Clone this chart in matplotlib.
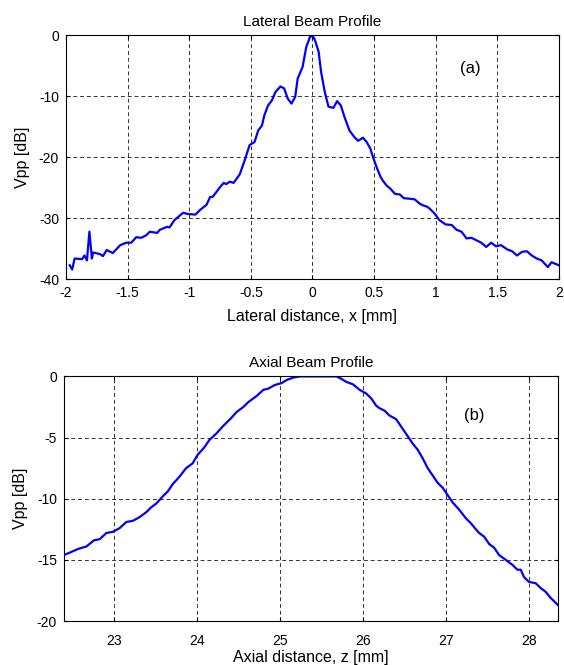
"""Lateral and axial beam profiles (Vpp in dB), MATLAB-style two-panel figure."""

import matplotlib

matplotlib.use("Agg")
import matplotlib.pyplot as plt

# ---- data -------------------------------------------------------------------
lat_x = [-1.97, -1.95, -1.93, -1.87, -1.85, -1.83, -1.81, -1.79, -1.78, -1.72,
         -1.70, -1.67, -1.62, -1.56, -1.51, -1.47, -1.43, -1.39, -1.35, -1.32,
         -1.26, -1.24, -1.18, -1.16, -1.12, -1.05, -1.01, -0.95, -0.91, -0.86,
         -0.83, -0.81, -0.75, -0.72, -0.70, -0.67, -0.64, -0.59, -0.55, -0.51,
         -0.47, -0.44, -0.41, -0.39, -0.36, -0.33, -0.30, -0.26, -0.23, -0.20,
         -0.17, -0.14, -0.12, -0.08, -0.05, -0.02, 0.00, 0.02, 0.05, 0.07,
         0.10, 0.13, 0.17, 0.20, 0.23, 0.26, 0.30, 0.34, 0.37, 0.41,
         0.44, 0.47, 0.49, 0.52, 0.55, 0.57, 0.60, 0.63, 0.67, 0.71,
         0.74, 0.79, 0.83, 0.87, 0.90, 0.93, 0.95, 0.99, 1.03, 1.08,
         1.13, 1.17, 1.21, 1.25, 1.29, 1.33, 1.37, 1.41, 1.45, 1.49,
         1.53, 1.58, 1.62, 1.66, 1.70, 1.74, 1.78, 1.82, 1.86, 1.91,
         1.94, 2.00]
lat_db = [-37.7, -38.4, -36.6, -36.7, -36.1, -36.9, -32.2, -36.6, -35.6, -35.9,
          -36.2, -35.2, -35.7, -34.4, -34.0, -34.0, -33.1, -33.2, -32.8, -32.2,
          -32.4, -31.9, -31.4, -31.5, -30.3, -29.1, -29.3, -29.4, -28.6, -27.8,
          -26.5, -26.5, -24.9, -24.2, -24.4, -24.0, -24.2, -22.8, -20.5, -18.0,
          -17.5, -15.6, -14.8, -13.1, -11.5, -10.7, -9.3, -8.4, -8.7, -10.4,
          -11.2, -10.1, -7.1, -5.2, -1.9, -0.3, 0.0, -0.8, -2.7, -6.0,
          -9.3, -11.7, -11.9, -10.8, -11.5, -13.4, -15.6, -16.7, -17.3, -16.8,
          -17.5, -18.6, -19.9, -21.6, -23.1, -23.8, -24.6, -25.1, -26.0, -26.1,
          -26.7, -26.8, -26.9, -27.6, -27.9, -28.1, -28.4, -29.2, -30.3, -31.0,
          -31.1, -31.9, -32.2, -33.3, -33.2, -33.6, -34.0, -34.7, -34.0, -34.6,
          -34.4, -35.1, -35.4, -36.1, -35.5, -35.4, -36.1, -36.6, -36.9, -38.0,
          -37.2, -37.7]

ax_z = [22.40, 22.47, 22.57, 22.67, 22.76, 22.83, 22.91, 22.99, 23.07, 23.15,
        23.23, 23.31, 23.39, 23.45, 23.51, 23.59, 23.65, 23.71, 23.79, 23.87,
        23.95, 24.01, 24.09, 24.15, 24.23, 24.31, 24.40, 24.48, 24.56, 24.62,
        24.72, 24.80, 24.86, 24.94, 25.02, 25.08, 25.16, 25.24, 25.40, 25.68,
        25.74, 25.80, 25.88, 25.96, 26.04, 26.10, 26.16, 26.20, 26.26, 26.32,
        26.40, 26.46, 26.52, 26.60, 26.66, 26.72, 26.78, 26.84, 26.90, 26.96,
        27.02, 27.08, 27.16, 27.24, 27.30, 27.36, 27.40, 27.46, 27.52, 27.58,
        27.64, 27.72, 27.80, 27.86, 27.90, 27.94, 28.00, 28.08, 28.14, 28.20,
        28.26, 28.35]
ax_db = [-14.6, -14.4, -14.1, -13.9, -13.4, -13.3, -12.8, -12.7, -12.4, -11.9,
         -11.8, -11.5, -11.1, -10.7, -10.4, -9.8, -9.4, -8.8, -8.2, -7.5,
         -7.1, -6.4, -5.8, -5.2, -4.7, -4.1, -3.5, -2.9, -2.5, -2.1,
         -1.6, -1.1, -1.0, -0.7, -0.55, -0.3, -0.1, 0.0, 0.0, 0.0,
         -0.2, -0.45, -0.65, -1.1, -1.4, -1.8, -2.4, -2.6, -2.8, -3.2,
         -3.5, -4.1, -4.7, -5.5, -6.0, -6.7, -7.5, -8.1, -8.7, -9.1,
         -9.7, -10.3, -10.9, -11.6, -12.0, -12.5, -12.8, -13.1, -13.7, -14.0,
         -14.6, -15.0, -15.4, -15.8, -15.8, -16.4, -16.8, -16.9, -17.3, -17.6,
         -18.1, -18.7]

lat_xticks = [-2, -1.5, -1, -0.5, 0, 0.5, 1, 1.5, 2]
lat_xticklabels = ["-2", "-1.5", "-1", "-0.5", "0", "0.5", "1", "1.5", "2"]
lat_yticks = [-40, -30, -20, -10, 0]
ax_xticks = [23, 24, 25, 26, 27, 28]
ax_yticks = [-20, -15, -10, -5, 0]

plt.rcParams.update({
    "font.family": ["Liberation Sans", "DejaVu Sans"],
    "axes.unicode_minus": False,
    "xtick.direction": "in",
    "ytick.direction": "in",
    "xtick.top": True,
    "ytick.right": True,
    "xtick.major.size": 3,
    "ytick.major.size": 3,
})

BLUE = "#0000ff"
TITLE_FS = 11
LABEL_FS = 11.5
TICK_FS = 10


def style(ax, xpad=5):
    ax.grid(True, color="black", linestyle=(0, (4, 3)), linewidth=0.7, alpha=0.8)
    for s in ax.spines.values():
        s.set_linewidth(0.8)
    ax.tick_params(axis="y", labelsize=TICK_FS, pad=5)
    ax.tick_params(axis="x", labelsize=TICK_FS, pad=xpad)


fig = plt.figure(figsize=(5.64, 6.65), dpi=100)
fig.patch.set_facecolor("white")

ax1 = fig.add_axes([0.117, 0.580, 0.874, 0.367])
ax1.plot(lat_x, lat_db, color=BLUE, linewidth=1.6)
ax1.set_xlim(-2, 2)
ax1.set_ylim(-40, 0)
ax1.set_xticks(lat_xticks)
ax1.set_xticklabels(lat_xticklabels)
ax1.set_yticks(lat_yticks)
ax1.set_title("Lateral Beam Profile", fontsize=TITLE_FS, pad=7)
ax1.set_xlabel("Lateral distance, x [mm]", fontsize=LABEL_FS, labelpad=6)
ax1.set_ylabel("Vpp [dB]", fontsize=LABEL_FS, labelpad=6)
ax1.text(1.28, -5.5, "(a)", fontsize=12, ha="center", va="center")
style(ax1, xpad=5)

ax2 = fig.add_axes([0.1135, 0.066, 0.876, 0.368])
ax2.plot(ax_z, ax_db, color=BLUE, linewidth=1.6)
ax2.set_xlim(22.4, 28.35)
ax2.set_ylim(-20, 0)
ax2.set_xticks(ax_xticks)
ax2.set_yticks(ax_yticks)
ax2.set_title("Axial Beam Profile", fontsize=TITLE_FS, pad=7)
ax2.set_xlabel("Axial distance, z [mm]", fontsize=LABEL_FS, labelpad=1.5)
ax2.set_ylabel("Vpp [dB]", fontsize=LABEL_FS, labelpad=6)
ax2.text(27.34, -3.2, "(b)", fontsize=12, ha="center", va="center")
style(ax2, xpad=9.5)

fig.savefig("out.png", dpi=100)
